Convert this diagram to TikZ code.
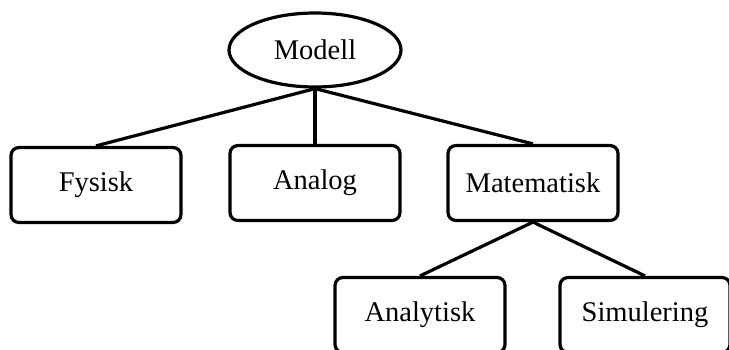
\documentclass[tikz,border=0pt]{standalone}
\usepackage{fontspec}
\setmainfont{Liberation Serif}
\usetikzlibrary{shapes.geometric}

\tikzset{
	boks/.style={draw, line width=3.2, rounded corners=8, minimum width=170, minimum height=75, font=\fontsize{28.5}{31}\selectfont},
	rot/.style={draw, ellipse, line width=3.2, minimum width=172, minimum height=74, inner sep=0, font=\fontsize{28.5}{31}\selectfont},
	kant/.style={line width=3.2}
}

\begin{document}
\begin{tikzpicture}[x=1pt, y=-1pt]
		\useasboundingbox (0, 0) rectangle (729, 349);

		\node [rot] (modell) at (315, 50) {Modell};
		\node [boks] (fysisk) at (96, 185) {Fysisk};
		\node [boks] (analog) at (315, 183) {Analog};
		\node [boks] (matematisk) at (533, 183) {Matematisk};
		\node [boks] (analytisk) at (420, 315) {Analytisk};
		\node [boks] (simulering) at (645, 315) {Simulering};

		\draw [kant] (modell.south) -- (fysisk.north);
		\draw [kant] (modell.south) -- (analog.north);
		\draw [kant] (modell.south) -- (matematisk.north);
		\draw [kant] (matematisk.south) -- (analytisk.north);
		\draw [kant] (matematisk.south) -- (simulering.north);
	\end{tikzpicture}
\end{document}
